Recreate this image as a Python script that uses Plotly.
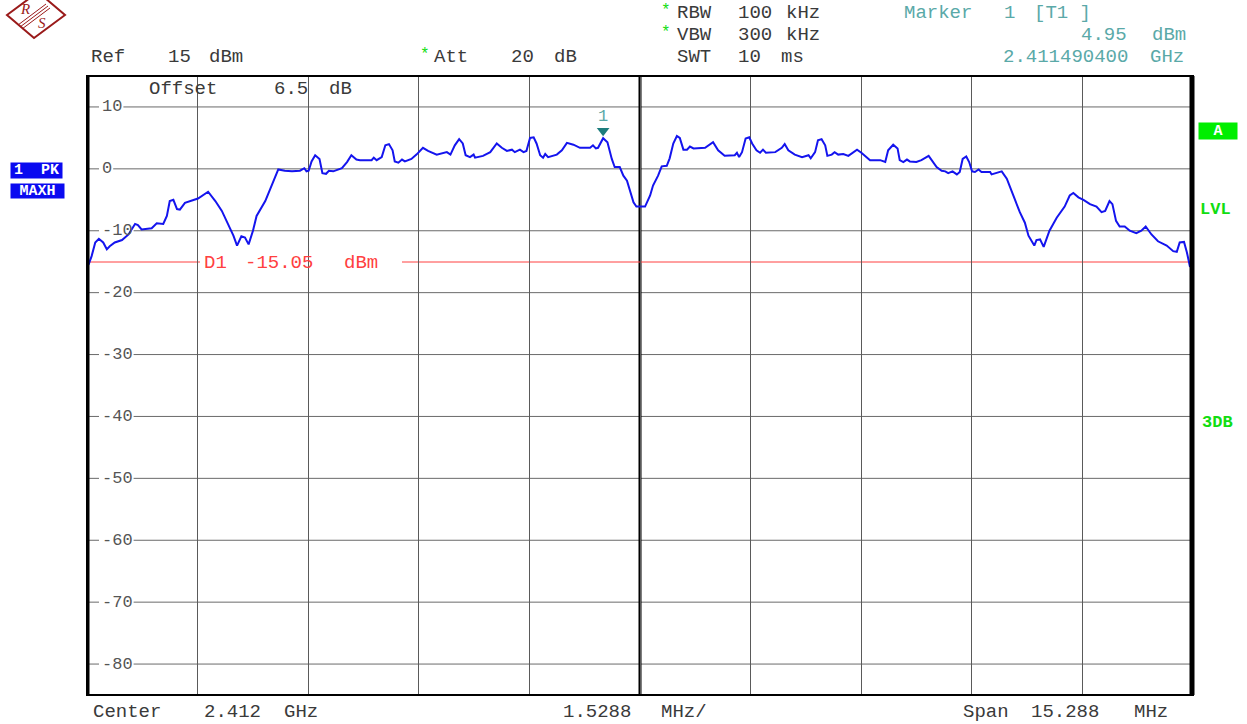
import plotly.graph_objects as go

# ---------------- data ----------------
center_mhz = 2412.0
span_mhz = 15.288
ref_level = 15
db_per_div = 10
y_ticks = [10, 0, -10, -20, -30, -40, -50, -60, -70, -80]
y_tick_text = ["10", "0", "-10", "-20", "-30", "-40", "-50", "-60", "-70", "-80"]

d1_level = -15.05
marker_freq = 2411.4904
marker_level = 4.95

freq_mhz = [
    2404.36, 2404.38, 2404.42, 2404.47, 2404.52, 2404.58, 2404.63, 2404.67, 2404.74, 2404.84, 2404.93, 2405.02, 2405.06, 2405.11,
    2405.25, 2405.32, 2405.41, 2405.46, 2405.50, 2405.55, 2405.60, 2405.64, 2405.71, 2405.80, 2405.89, 2406.03,
    2406.13, 2406.22, 2406.31, 2406.38, 2406.43, 2406.49, 2406.54, 2406.59, 2406.65, 2406.70, 2406.82, 2406.91, 2407.00,
    2407.09, 2407.19, 2407.30, 2407.36, 2407.39, 2407.42, 2407.46, 2407.51, 2407.57, 2407.61, 2407.66, 2407.70, 2407.76, 2407.88, 2407.95, 2408.01, 2408.08, 2408.13,
    2408.29, 2408.32, 2408.36, 2408.43, 2408.48, 2408.53, 2408.58, 2408.61, 2408.66, 2408.71, 2408.75, 2408.84, 2408.91, 2409.00, 2409.07, 2409.19,
    2409.33, 2409.38, 2409.44, 2409.50, 2409.55, 2409.59, 2409.65, 2409.70, 2409.72, 2409.83, 2409.93, 2410.02, 2410.09, 2410.16, 2410.23, 2410.27, 2410.34, 2410.39, 2410.43,
    2410.48, 2410.53, 2410.57, 2410.62, 2410.66, 2410.69, 2410.73, 2410.85, 2410.92, 2410.99, 2411.08, 2411.17, 2411.31, 2411.35, 2411.39, 2411.42,
    2411.4904, 2411.55, 2411.61, 2411.65, 2411.72, 2411.77, 2411.82, 2411.91, 2411.95, 2412.07,
    2412.14, 2412.18, 2412.25, 2412.30, 2412.37, 2412.41, 2412.46, 2412.51, 2412.55, 2412.60, 2412.65, 2412.69, 2412.74, 2412.90,
    2413.01, 2413.08, 2413.17, 2413.31, 2413.34, 2413.37, 2413.41, 2413.46, 2413.51, 2413.55, 2413.61, 2413.66, 2413.70, 2413.74, 2413.87, 2413.96, 2414.00, 2414.05,
    2414.14, 2414.24, 2414.33, 2414.36, 2414.42, 2414.46, 2414.51, 2414.56, 2414.59, 2414.65, 2414.69, 2414.74, 2414.81, 2414.88, 2415.00, 2415.06,
    2415.18, 2415.32, 2415.39, 2415.43, 2415.50, 2415.56, 2415.59, 2415.64, 2415.69, 2415.73, 2415.82, 2415.89, 2415.99, 2416.10,
    2416.17, 2416.22, 2416.26, 2416.32, 2416.38, 2416.42, 2416.46, 2416.51, 2416.55, 2416.59, 2416.63, 2416.68, 2416.72, 2416.84, 2416.86, 2417.00, 2417.07,
    2417.16, 2417.25, 2417.32, 2417.37, 2417.45, 2417.48, 2417.53, 2417.58, 2417.66, 2417.76, 2417.87, 2417.94, 2417.99, 2418.06,
    2418.13, 2418.22, 2418.31, 2418.38, 2418.43, 2418.49, 2418.53, 2418.58, 2418.63, 2418.70, 2418.77, 2418.86, 2418.93, 2418.99,
    2419.07, 2419.16, 2419.28, 2419.37, 2419.42, 2419.46, 2419.52, 2419.56, 2419.60, 2419.64,
]

level_dbm = [
    -15.6, -15.4, -14.1, -11.9, -11.3, -11.9, -13.0, -12.5, -11.9, -11.5, -10.6, -8.9, -9.1, -9.8,
    -9.6, -8.8, -8.9, -7.6, -5.2, -5.0, -6.5, -6.6, -5.5, -5.2, -4.8, -3.7,
    -5.2, -6.8, -8.9, -10.8, -12.4, -10.9, -11.1, -12.2, -10.0, -7.6, -5.2, -2.7, -0.1,
    -0.3, -0.4, -0.3, 0.1, -0.4, -0.3, 1.2, 2.2, 1.6, -0.7, -0.8, -0.3, -0.4, 0.1, 1.1, 2.2, 1.5, 1.4,
    1.4, 1.8, 1.4, 1.9, 3.8, 4.0, 3.0, 1.2, 1.0, 1.5, 1.2, 1.6, 2.3, 3.4, 2.9, 2.3,
    2.7, 2.3, 3.8, 4.8, 4.1, 2.2, 1.9, 2.3, 1.8, 2.1, 2.7, 4.1, 3.4, 2.9, 3.1, 2.7, 3.1, 2.7, 2.9,
    5.0, 5.1, 4.1, 2.2, 1.8, 2.4, 1.9, 2.3, 3.0, 4.2, 3.9, 3.4, 3.4, 3.8, 3.3, 3.4,
    4.95, 4.3, 1.6, 0.3, 0.3, -1.1, -1.9, -5.4, -6.1, -6.1,
    -4.3, -2.7, -1.1, 0.4, 0.5, 1.7, 4.1, 5.3, 5.0, 3.1, 3.1, 3.6, 3.3, 3.4,
    4.3, 3.0, 2.1, 2.2, 2.6, 1.9, 2.7, 4.9, 5.1, 4.1, 3.0, 2.6, 3.1, 2.6, 2.7, 3.4, 4.0, 3.0,
    2.3, 1.9, 2.2, 1.7, 2.7, 4.6, 4.8, 3.8, 2.1, 2.3, 2.7, 2.3, 2.4, 2.1, 3.1, 2.6,
    1.4, 1.4, 1.1, 3.0, 3.9, 3.3, 1.4, 1.1, 1.5, 1.2, 1.1, 1.4, 2.1, 0.3,
    -0.3, -0.4, -0.7, -0.4, -0.9, -0.5, 1.6, 2.0, 1.1, -0.4, -0.5, -0.1, -0.5, -0.5, -0.9, -0.4, -1.6,
    -4.3, -7.0, -8.7, -10.8, -12.4, -11.5, -11.4, -12.6, -10.0, -7.9, -6.1, -4.3, -3.9, -4.6,
    -5.0, -5.7, -6.1, -7.0, -6.8, -5.2, -5.7, -8.4, -9.3, -9.3, -10.0, -10.4, -10.0, -9.3,
    -10.6, -11.7, -12.4, -13.3, -13.4, -11.9, -11.8, -13.5, -15.7, -16.0,
]
assert len(freq_mhz) == len(level_dbm)

# ---------------- layout helpers ----------------
W, H = 1247, 724
L, R, T, B = 87, 1193, 76, 695
f_start = center_mhz - span_mhz / 2
f_stop = center_mhz + span_mhz / 2
div = span_mhz / 10
y_bottom = ref_level - 10 * db_per_div


def xp(px):
    return (px - L) / (R - L)


def yp(py):
    return (B - py) / (B - T)


MONO = "Liberation Mono"
TXT = "#3a3a3a"
TEAL = "#5aa9a8"
GREEN = "#11dd11"
HS = 19  # header font size

fig = go.Figure()

fig.add_trace(go.Scatter(
    x=freq_mhz, y=level_dbm, mode="lines",
    line=dict(color="#1414ee", width=2), hoverinfo="skip", showlegend=False,
))

# marker triangle (slightly above trace point)
fig.add_trace(go.Scatter(
    x=[marker_freq], y=[marker_level + 1.2], mode="markers",
    marker=dict(symbol="triangle-down", size=11, color="#1d7d7d", line=dict(width=0)),
    hoverinfo="skip", showlegend=False,
))

annotations = []


def txt(x, y, s, color=TXT, size=HS, anchor="left", **kw):
    annotations.append(dict(
        x=xp(x), y=yp(y), xref="paper", yref="paper", text=s, showarrow=False,
        xanchor=anchor, yanchor="middle", borderpad=0,
        font=dict(family=MONO, size=size, color=color), **kw))


def words(y, items, color=TXT, size=HS):
    for item in items:
        x, s = item[0], item[1]
        anchor = item[2] if len(item) > 2 else "left"
        txt(x, y, s, color=color, size=size, anchor=anchor)


# header
words(57, [(90, "Ref"), (167, "15"), (208, "dBm")])
txt(419, 55, "*", color=GREEN, size=16)
words(57, [(433, "Att"), (510, "20"), (553, "dB")])
txt(660, 11, "*", color=GREEN, size=16)
words(13, [(676, "RBW"), (737, "100"), (785, "kHz")])
txt(660, 33, "*", color=GREEN, size=16)
words(35, [(676, "VBW"), (737, "300"), (785, "kHz")])
words(57, [(676, "SWT"), (737, "10"), (780, "ms")])
words(13, [(903, "Marker"), (1003, "1"), (1033, "[T1 ]")], color=TEAL)
words(35, [(1128, "4.95", "right"), (1187, "dBm", "right")], color=TEAL)
words(57, [(1129, "2.411490400", "right"), (1185, "GHz", "right")], color=TEAL)
words(89, [(148, "Offset"), (273, "6.5"), (328, "dB")])

# footer
words(712, [(92, "Center"), (203, "2.412"), (283, "GHz")])
words(712, [(562, "1.5288"), (660, "MHz/")])
words(712, [(962, "Span"), (1030, "15.288"), (1133, "MHz")])

# D1 label
words(263, [(203, "D1"), (244, "-15.05"), (343, "dBm")], color="#ff4040")

# marker number
annotations.append(dict(
    x=marker_freq, y=marker_level, xref="x", yref="y", text="1", showarrow=False,
    yshift=22, font=dict(family=MONO, size=17, color=TEAL)))

# y tick labels inside plot (gridlines are drawn as shapes with a gap)
LBL_X = 101
LBL_PITCH = 10.2
for v, s in zip(y_ticks, y_tick_text):
    annotations.append(dict(
        x=xp(LBL_X), y=v, xref="paper", yref="y", text=s, showarrow=False,
        xanchor="left", yanchor="middle", borderpad=0,
        font=dict(family=MONO, size=17, color="#555555")))


# side boxes
def box(x0, x1, y0, y1, s, bg, size=14):
    annotations.append(dict(
        x=xp((x0 + x1) / 2), y=yp((y0 + y1) / 2), xref="paper", yref="paper",
        text="<b>" + s + "</b>", showarrow=False, xanchor="center", yanchor="middle",
        width=x1 - x0, height=y1 - y0, bgcolor=bg, borderpad=0,
        font=dict(family=MONO, size=size, color="white")))


box(11, 62, 163, 178, "1  PK", "#0a0af0", size=15)
box(11, 64, 184, 198, "MAXH", "#0a0af0", size=15)
box(1199, 1237, 123, 139, "A", "#00ee00", size=15)
txt(1199, 209, "<b>LVL</b>", color=GREEN, size=17)
txt(1201, 423, "<b>3DB</b>", color=GREEN, size=17)

# logo letters
annotations.append(dict(x=xp(25), y=yp(9), xref="paper", yref="paper", text="<i>R</i>",
                        xanchor="center", yanchor="middle", borderpad=0,
                        showarrow=False, font=dict(family="Liberation Serif", size=15, color="#9a1a1a")))
annotations.append(dict(x=xp(42), y=yp(23), xref="paper", yref="paper", text="<i>S</i>",
                        xanchor="center", yanchor="middle", borderpad=0,
                        showarrow=False, font=dict(family="Liberation Serif", size=15, color="#9a1a1a")))

shapes = []
# horizontal grid lines with a gap for the labels
for v, s in zip(y_ticks, y_tick_text):
    gap_end = LBL_X + len(s) * LBL_PITCH + 2
    shapes.append(dict(type="line", xref="paper", yref="y", x0=0, x1=xp(LBL_X - 2), y0=v, y1=v,
                       line=dict(color="#6a6a6a", width=1), layer="below"))
    shapes.append(dict(type="line", xref="paper", yref="y", x0=xp(gap_end), x1=1, y0=v, y1=v,
                       line=dict(color="#6a6a6a", width=1), layer="below"))

# plot border
shapes.append(dict(type="rect", xref="paper", yref="paper", x0=0, x1=1, y0=0, y1=1,
                   line=dict(color="black", width=2), layer="above"))
shapes.append(dict(type="line", xref="paper", yref="paper", x0=xp(1192), x1=xp(1192), y0=0, y1=1,
                   line=dict(color="black", width=5), layer="above"))
shapes.append(dict(type="line", xref="paper", yref="paper", x0=xp(88), x1=xp(88), y0=0, y1=1,
                   line=dict(color="black", width=3), layer="above"))
# center line
shapes.append(dict(type="line", xref="x", yref="paper", x0=center_mhz, x1=center_mhz, y0=0, y1=1,
                   line=dict(color="black", width=3), layer="below"))
# display line D1
shapes.append(dict(type="line", xref="paper", yref="y", x0=0, x1=xp(200), y0=d1_level, y1=d1_level,
                   line=dict(color="#ff4040", width=1), layer="below"))
shapes.append(dict(type="line", xref="paper", yref="y", x0=xp(402), x1=1, y0=d1_level, y1=d1_level,
                   line=dict(color="#ff4040", width=1), layer="below"))


# logo diamond
def pth(points):
    return "M " + " L ".join(f"{xp(a):.5f},{yp(b):.5f}" for a, b in points) + " Z"


shapes.append(dict(type="path", xref="paper", yref="paper",
                   path=pth([(7, 15), (38, -8), (65, 15), (34, 38)]),
                   line=dict(color="#9a1a1a", width=2)))
for off in (-2, 0, 2):
    shapes.append(dict(type="line", xref="paper", yref="paper",
                       x0=xp(20 + off), y0=yp(27 + off), x1=xp(48 + off), y1=yp(6 + off),
                       line=dict(color="#9a1a1a", width=1)))

grid_x = [f_start + k * div for k in range(1, 10)]

fig.update_layout(
    width=W, height=H,
    margin=dict(l=L, r=W - R, t=T, b=H - B, pad=0),
    paper_bgcolor="white", plot_bgcolor="white",
    showlegend=False,
    xaxis=dict(range=[f_start, f_stop], tickvals=grid_x, showticklabels=False,
               showgrid=True, gridcolor="#5a5a5a", gridwidth=1, zeroline=False,
               showline=False, ticks="", fixedrange=True),
    yaxis=dict(range=[y_bottom, ref_level], tickvals=y_ticks, showticklabels=False,
               showgrid=False, zeroline=False,
               showline=False, ticks="", fixedrange=True),
    annotations=annotations,
    shapes=shapes,
)

fig.write_html("out.html", config={"displayModeBar": False},
               post_script="document.body.style.margin='0';document.body.style.overflow='hidden';")
